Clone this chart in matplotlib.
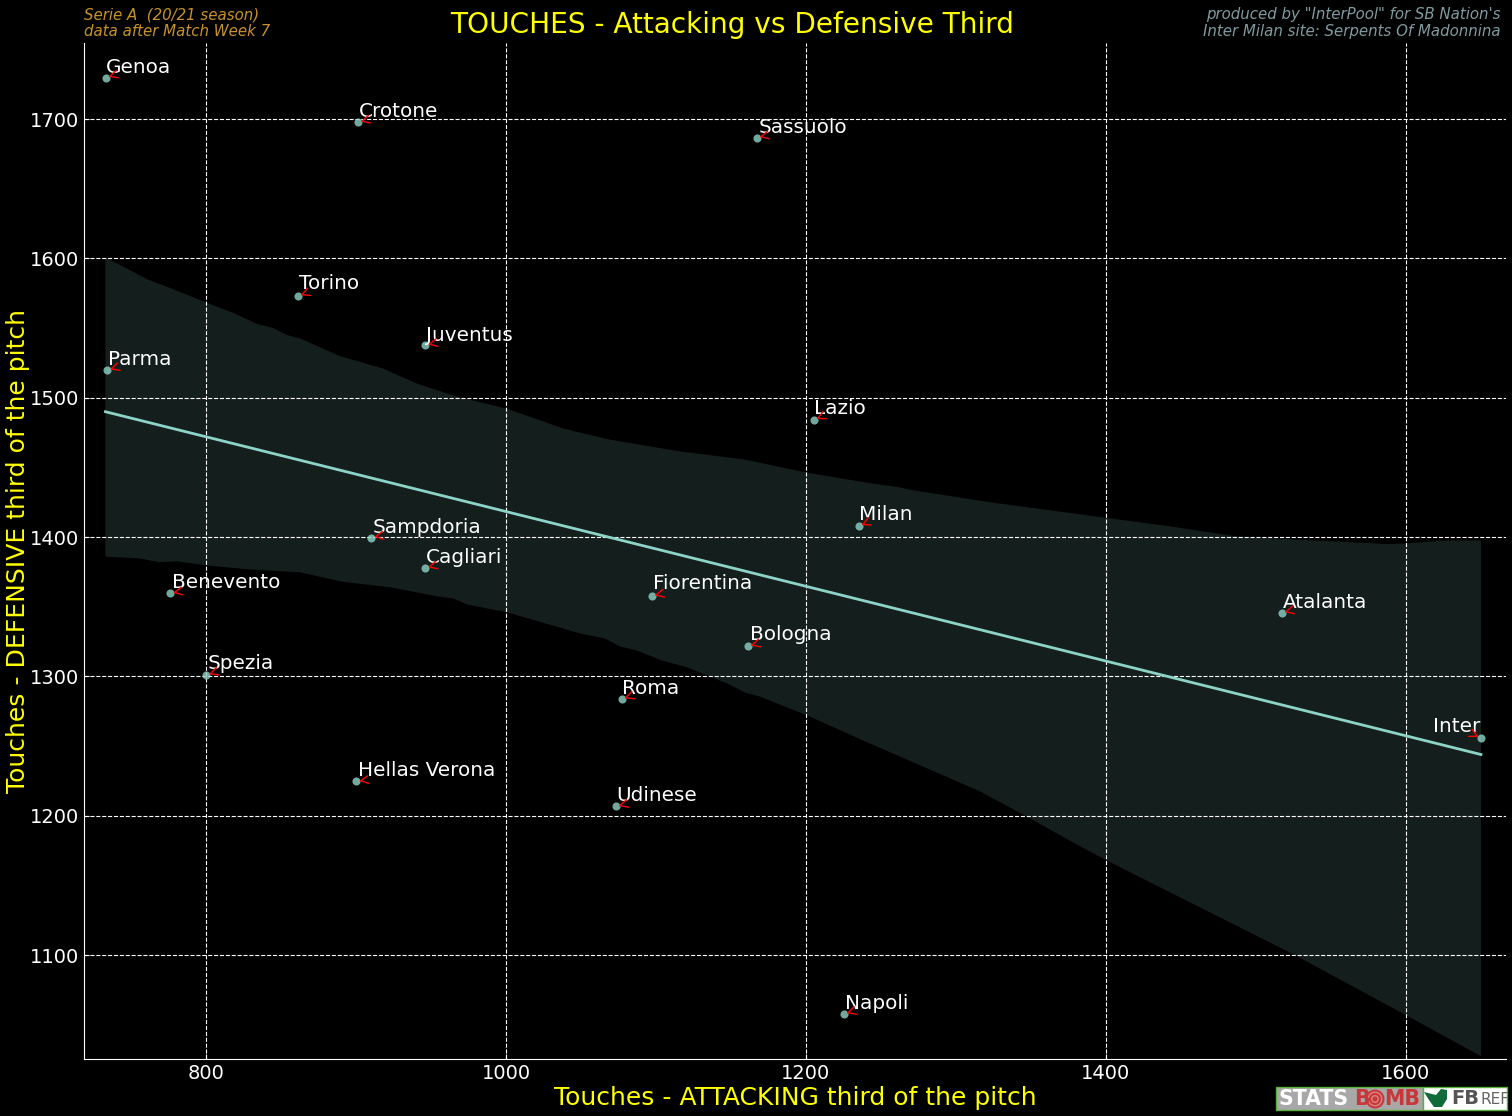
import math

import matplotlib
matplotlib.use("Agg")
import matplotlib.pyplot as plt
from matplotlib.patches import Circle, Polygon, Rectangle

teams = ["Genoa", "Crotone", "Sassuolo", "Torino", "Juventus", "Parma", "Lazio",
         "Milan", "Sampdoria", "Cagliari", "Benevento", "Fiorentina", "Atalanta",
         "Bologna", "Spezia", "Roma", "Inter", "Hellas Verona", "Udinese", "Napoli"]
attacking = [733.2, 901.2, 1167.2, 861.2, 946.2, 734.2, 1205.2, 1235.2, 910.2, 946.2,
             776.2, 1097.2, 1517.2, 1161.2, 800.2, 1077.2, 1650.2, 900.2, 1073.2, 1225.2]
defensive = [1729.7, 1697.7, 1686.7, 1572.9, 1537.7, 1519.7, 1483.9, 1407.9, 1399.7, 1377.7,
             1359.7, 1357.7, 1345.7, 1321.7, 1300.9, 1283.7, 1255.7, 1224.7, 1206.7, 1057.7]

# label offsets from the point, in pixels
label_dx = [0.6, 1.6, 1.6, 1.6, 0.6, 0.6, 0.6, 0.6, 1.6, 0.6, 1.6, 1.6, 0.6, 2.2, 1.6, 0.6,
            -48.4, 1.6, 0.8, 1.6]
label_dy = [4.7, 5.5, 4.7, 6.7, 4.7, 5, 6.7, 6, 5, 5, 5, 6.7, 5, 6.2, 6.7, 5, 6.7, 5, 5, 5]

fit_x = [733, 1650]
fit_y = [1490, 1244]

upper_x = [733, 745, 761, 778, 801, 818, 834, 845, 854, 863, 889, 918, 941, 967, 1001,
           1038, 1069, 1116, 1159, 1200, 1241, 1261, 1272, 1323, 1399, 1441, 1487, 1539,
           1589, 1601, 1625, 1650]
upper_y = [1600.6, 1594, 1585, 1578, 1568, 1561, 1553, 1550, 1545, 1542.5, 1530, 1521,
           1510, 1501, 1492, 1478, 1470, 1461.5, 1455.7, 1446.4, 1439, 1436, 1433.5, 1425,
           1414, 1408, 1400.5, 1397.6, 1395, 1395.5, 1397.6, 1397.6]
lower_x = [733, 756, 769, 781, 801, 827, 863, 891, 923, 954, 965, 974, 1001, 1049, 1066,
           1076, 1087, 1104, 1121, 1149, 1159, 1169, 1201, 1241, 1316, 1347, 1383, 1399,
           1525, 1599, 1650]
lower_y = [1386, 1384.7, 1382, 1382.6, 1379.7, 1377, 1374.7, 1368, 1364, 1357.5, 1356,
           1351.7, 1346, 1331, 1327.3, 1321.6, 1318.7, 1311.5, 1306.5, 1294.3, 1288.6,
           1285.7, 1272, 1252.7, 1217.6, 1199.6, 1178, 1168.8, 1100.6, 1057.6, 1027.5]

W, H = 1512, 1116
TEAL = "#8dd3c7"
YELLOW = "#ffff00"


def px_rect(x0, y0, x1, y1, **kw):
    return Rectangle((x0 / W, 1 - y1 / H), (x1 - x0) / W, (y1 - y0) / H,
                     transform=fig.transFigure, **kw)


plt.style.use("dark_background")
fig = plt.figure(figsize=(W / 100, H / 100), dpi=100, facecolor="black")
ax = fig.add_axes([84 / W, 1 - 1059 / H, (1506 - 84) / W, (1059 - 43) / H], facecolor="black")

ax.fill(upper_x + lower_x[::-1], upper_y + lower_y[::-1], color=TEAL, alpha=0.15, lw=0)
ax.plot(fit_x, fit_y, color=TEAL, lw=2, zorder=3)
ax.scatter(attacking, defensive, color=TEAL, alpha=0.8, s=34, lw=0, zorder=4)

ax.set_xlim(718.7, 1666.7)
ax.set_ylim(1025.5, 1754.6)
ax.set_xticks([800, 1000, 1200, 1400, 1600])
ax.set_yticks([1100, 1200, 1300, 1400, 1500, 1600, 1700])
ax.tick_params(labelsize=14, colors="white", direction="in")
ax.grid(True, color="white", ls="--", lw=0.8)
ax.spines["top"].set_visible(False)
ax.spines["right"].set_visible(False)

labels = []
for name, xv, yv, dx, dy in zip(teams, attacking, defensive, label_dx, label_dy):
    labels.append(ax.annotate(name, (xv, yv), xytext=(dx * 0.72, dy * 0.72),
                              textcoords="offset points", color="white", fontsize=14.4,
                              va="baseline", ha="left", zorder=5))

# short red arrow heads, each one pointing from the label centre to its point
fig.canvas.draw()
for label, xv, yv in zip(labels, attacking, defensive):
    box = label.get_window_extent()
    px, py = ax.transData.transform((xv, yv))
    ang = math.atan2((box.y0 + box.y1) / 2 - py, (box.x0 + box.x1) / 2 - px)
    ax.annotate("", (xv, yv), xytext=(4 * math.cos(ang), 4 * math.sin(ang)),
                textcoords="offset points", zorder=5,
                arrowprops=dict(arrowstyle="->", color="red", lw=1, mutation_scale=14,
                                shrinkA=0, shrinkB=2))

ax.set_xlabel("Touches - ATTACKING third of the pitch", color=YELLOW, fontsize=18, labelpad=2)
ax.set_ylabel("Touches - DEFENSIVE third of the pitch", color=YELLOW, fontsize=18)
ax.yaxis.set_label_coords(-0.038, 0.5)

fig.text(732 / W, 1 - 25 / H, "TOUCHES - Attacking vs Defensive Third", color=YELLOW,
         fontsize=20.15, ha="center", va="center")
fig.text(84 / W, 1 - 23 / H, "Serie A  (20/21 season)\ndata after Match Week 7",
         color="#c8922a", fontsize=10.85, style="italic", ha="left", va="center", linespacing=1.1)
fig.text(1501 / W, 1 - 23 / H, 'produced by "InterPool" for SB Nation\'s\nInter Milan site: Serpents Of Madonnina',
         color="#7f9aa0", fontsize=10.85, style="italic", ha="right", va="center", linespacing=1.1)

# source badge, bottom right
fig.add_artist(px_rect(1276, 1087, 1423, 1110, facecolor="#a8a8a8", edgecolor="#5ab03c", lw=1))
fig.add_artist(px_rect(1423, 1087, 1507, 1110, facecolor="white", edgecolor="#5ab03c", lw=1))
for r, c in [(9.5, "#c8383a"), (7.5, "#d98080"), (6, "#c8383a"), (4, "#d98080"), (2.5, "#c8383a")]:
    fig.add_artist(Circle((1375, H - 1099), r, transform=None, facecolor=c, lw=0))
fig.text(1279 / W, 1 - 1099 / H, "STATS", color="white", fontsize=14.8, weight="bold", va="center")
fig.text(1354 / W, 1 - 1099 / H, "B", color="#c8383a", fontsize=14.8, weight="bold", va="center")
fig.text(1384 / W, 1 - 1099 / H, "MB", color="#c8383a", fontsize=14.8, weight="bold", va="center")
leaf = [(1424, 1092), (1436, 1095), (1441, 1089), (1447, 1090), (1447, 1099),
        (1442, 1107), (1434, 1107), (1429, 1100)]
fig.add_artist(Polygon([(x, H - y) for x, y in leaf], transform=None, facecolor="#0f6b3a", lw=0))
fig.text(1451 / W, 1 - 1099 / H, "FB", color="#555555", fontsize=14, weight="bold", va="center")
fig.text(1480 / W, 1 - 1099 / H, "REF", color="#666666", fontsize=11, va="center")

plt.savefig("out.png", dpi=100, facecolor="black")
print("Saved plot: out.png")
